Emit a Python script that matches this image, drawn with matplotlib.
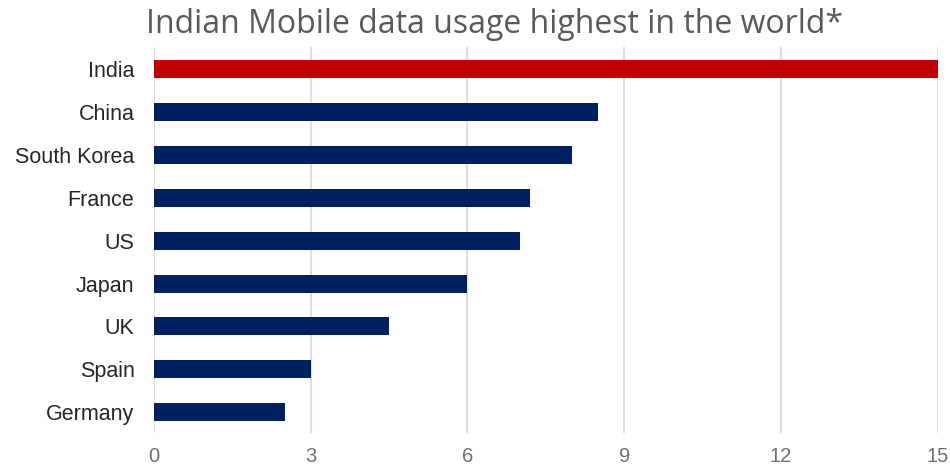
import matplotlib
matplotlib.use('Agg')
import matplotlib.pyplot as plt

# 各国手机流量使用量
countries = ['India', 'China', 'South Korea', 'France', 'US', 'Japan', 'UK', 'Spain', 'Germany']
usage = [15, 8.5, 8, 7.2, 7, 6, 4.5, 3, 2.5]
x_ticks = [0, 3, 6, 9, 12, 15]
title = 'Indian Mobile data usage highest in the world*'

bar_colors = ['#C00000' if c == 'India' else '#002060' for c in countries]

fig = plt.figure(figsize=(9.5, 4.66), dpi=100)
ax = fig.add_axes([0.162, 0.071, 0.825, 0.828])

ax.barh(range(len(countries)), usage, height=0.42, color=bar_colors, zorder=3)

ax.set_xlim(0, 15)
ax.set_ylim(8.48, -0.51)
ax.set_xticks(x_ticks)
ax.set_xticklabels([str(t) for t in x_ticks], fontsize=14.5, color='#707070', family='Liberation Sans')
ax.set_yticks(range(len(countries)))
ax.set_yticklabels(countries, fontsize=15.5, color='#262626', family='Liberation Sans')
ax.tick_params(axis='both', length=0)
ax.tick_params(axis='y', pad=14)
ax.tick_params(axis='x', pad=10)

ax.grid(axis='x', color='#dedede', linewidth=1.5, zorder=0)
for s in ax.spines.values():
    s.set_visible(False)

fig.text(495 / 950, 1 - 33 / 466, title, ha='center', va='baseline',
         fontsize=23, color='#595959', family='Open Sans')

plt.savefig('out.png', dpi=100)
